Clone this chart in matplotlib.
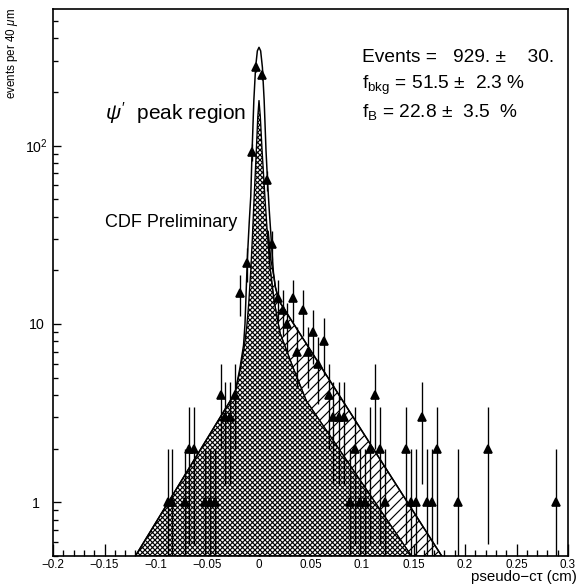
import numpy as np
import matplotlib
matplotlib.use("Agg")
import matplotlib.pyplot as plt
from matplotlib.ticker import FixedLocator, FixedFormatter, MultipleLocator, FuncFormatter

plt.rcParams['font.family'] = ['Liberation Sans', 'DejaVu Sans']
plt.rcParams['mathtext.fontset'] = 'custom'
plt.rcParams['mathtext.rm'] = 'Liberation Sans'
plt.rcParams['mathtext.it'] = 'Liberation Sans:italic'
plt.rcParams['hatch.linewidth'] = 0.7

# binned data (pseudo-ct in cm, events per 40 um)
ct = [-0.088, -0.084, -0.072, -0.068, -0.063, -0.052, -0.048, -0.043,
      -0.037, -0.033, -0.028, -0.023, -0.018, -0.012, -0.007, -0.003,
      0.003, 0.0075, 0.0127, 0.018, 0.023, 0.0275, 0.0327, 0.037,
      0.043, 0.048, 0.0527, 0.0576, 0.063, 0.068, 0.072, 0.078,
      0.0825, 0.088, 0.093, 0.098, 0.103, 0.108, 0.1126, 0.1175,
      0.1226, 0.143, 0.1476, 0.152, 0.158, 0.163, 0.168, 0.1725,
      0.193, 0.2226, 0.288]
counts = [1, 1, 1, 2, 2, 1, 1, 1,
          4, 3, 3, 4, 15, 22, 92, 275,
          250, 64, 28, 14, 12, 10, 14, 7,
          12, 7, 9, 6, 8, 4, 3, 3,
          3, 1, 2, 1, 1, 2, 4, 2,
          1, 2, 1, 1, 3, 1, 1, 2,
          1, 2, 1]

# total fit curve
total_x = [-0.120, -0.0233, -0.0184, -0.0150, -0.0136, -0.0125, -0.0112, -0.0095,
           -0.0080, -0.0068, -0.0050, -0.0033, -0.0016, 0.0, 0.0016, 0.0033,
           0.0050, 0.0068, 0.0085, 0.0100, 0.0115, 0.0127, 0.0140, 0.0160,
           0.0190, 0.0204, 0.1774]
total_y = [0.5, 4.1, 5.7, 7.6, 10, 15, 24, 37,
           52, 90, 180, 275, 340, 356, 340, 275,
           180, 94, 60, 43, 32, 25, 19.5, 16,
           13.8, 13.2, 0.5]

# background component (cross hatched)
bkg_x = [-0.120, -0.0233, -0.0184, -0.0145, -0.0120, -0.0100, -0.0080, -0.0065,
         -0.0049, -0.0026, -0.0012, 0.0, 0.0013, 0.0030, 0.0060, 0.0080,
         0.0107, 0.0146, 0.0204, 0.0330, 0.0460, 0.1480]
bkg_y = [0.5, 4.1, 5.5, 7.3, 9.5, 13, 20, 30,
         49, 94, 145, 180, 145, 94, 49, 33,
         20.7, 13.5, 8.9, 5.7, 3.7, 0.5]

# background + B component (upper edge of hatched area)
bsum_x = [0.0080, 0.0090, 0.0115, 0.0140, 0.0160, 0.0190, 0.0204, 0.1774]
bsum_y = [33.5, 33, 23, 19, 16, 13.8, 13.2, 0.5]

fig = plt.figure(figsize=(583 / 120, 587 / 120), dpi=120)
ax = fig.add_axes([53 / 583, 1 - 556 / 587, 515 / 583, 547 / 587])

# B component: between background and bkg+B
hx = bsum_x + [x for x in bkg_x[::-1] if x >= 0.008]
hy = bsum_y + [y for x, y in zip(bkg_x[::-1], bkg_y[::-1]) if x >= 0.008]
ax.fill(hx, hy, facecolor='white', edgecolor='black', hatch='////', lw=0.8, zorder=1)
ax.fill(bkg_x, bkg_y, facecolor='white', edgecolor='black', hatch='xxxxxxxx', lw=0.8, zorder=2)
ax.plot(total_x, total_y, color='black', lw=0.9, zorder=3)

cnt = np.array(counts, dtype=float)
err = np.sqrt(cnt)
ax.vlines(ct, np.maximum(cnt - err, 1e-3), cnt + err, color='black', lw=0.8, zorder=4)
ax.plot(ct, cnt, '^', color='black', ms=4.5, zorder=5)

ax.set_yscale('log')
ax.set_xlim(-0.2, 0.3)
ax.set_ylim(0.5, 584)

ax.xaxis.set_major_locator(MultipleLocator(0.05))
ax.xaxis.set_minor_locator(MultipleLocator(0.01))
ax.xaxis.set_major_formatter(FuncFormatter(lambda v, p: ('%g' % round(v, 3)).replace('-', '\u2212')))
ax.yaxis.set_major_locator(FixedLocator([1, 10, 100]))
ax.yaxis.set_major_formatter(FixedFormatter(['1', '10', r'$10^2$']))
minors = [0.5, 0.6, 0.7, 0.8, 0.9] + list(range(2, 10)) + list(range(20, 100, 10)) + [200, 300, 400, 500]
ax.yaxis.set_minor_locator(FixedLocator(minors))
ax.yaxis.set_minor_formatter(FixedFormatter([''] * len(minors)))

ax.tick_params(which='both', direction='in', top=False, right=False)
ax.tick_params(axis='x', which='major', length=7, width=0.8, labelsize=7, pad=2)
ax.tick_params(axis='x', which='minor', length=3.5, width=0.8)
ax.tick_params(axis='y', which='major', length=5, width=0.8, labelsize=8.5, pad=10)
ax.tick_params(axis='y', which='minor', length=3, width=0.8)
for lab in ax.get_yticklabels():
    lab.set_horizontalalignment('center')
for s in ax.spines.values():
    s.set_linewidth(1.0)

ax.text(0.60, 0.912, 'Events =   929. \u00b1    30.', transform=ax.transAxes, fontsize=11.5, va='center')
ax.text(0.60, 0.861, r'f$_{\rm bkg}$ = 51.5 $\pm$  2.3 %', transform=ax.transAxes, fontsize=11.5, va='center')
ax.text(0.60, 0.812, r'f$_{\rm B}$ = 22.8 $\pm$  3.5  %', transform=ax.transAxes, fontsize=11.5, va='center')
ax.text(0.101, 0.81, r"$\psi'$  peak region", transform=ax.transAxes, fontsize=12.5, va='center')
ax.text(0.101, 0.61, 'CDF Preliminary', transform=ax.transAxes, fontsize=10.8, va='center')

fig.text(12 / 583, 1 - 8 / 587, r'events per 40 $\mu$m', rotation=90, ha='center', va='top', fontsize=7)
fig.text(577 / 583, 3 / 587, '\u2212'.join(['pseudo', 'c\u03c4 (cm)']), ha='right', va='bottom', fontsize=9)

fig.savefig('out.png', dpi=120)
